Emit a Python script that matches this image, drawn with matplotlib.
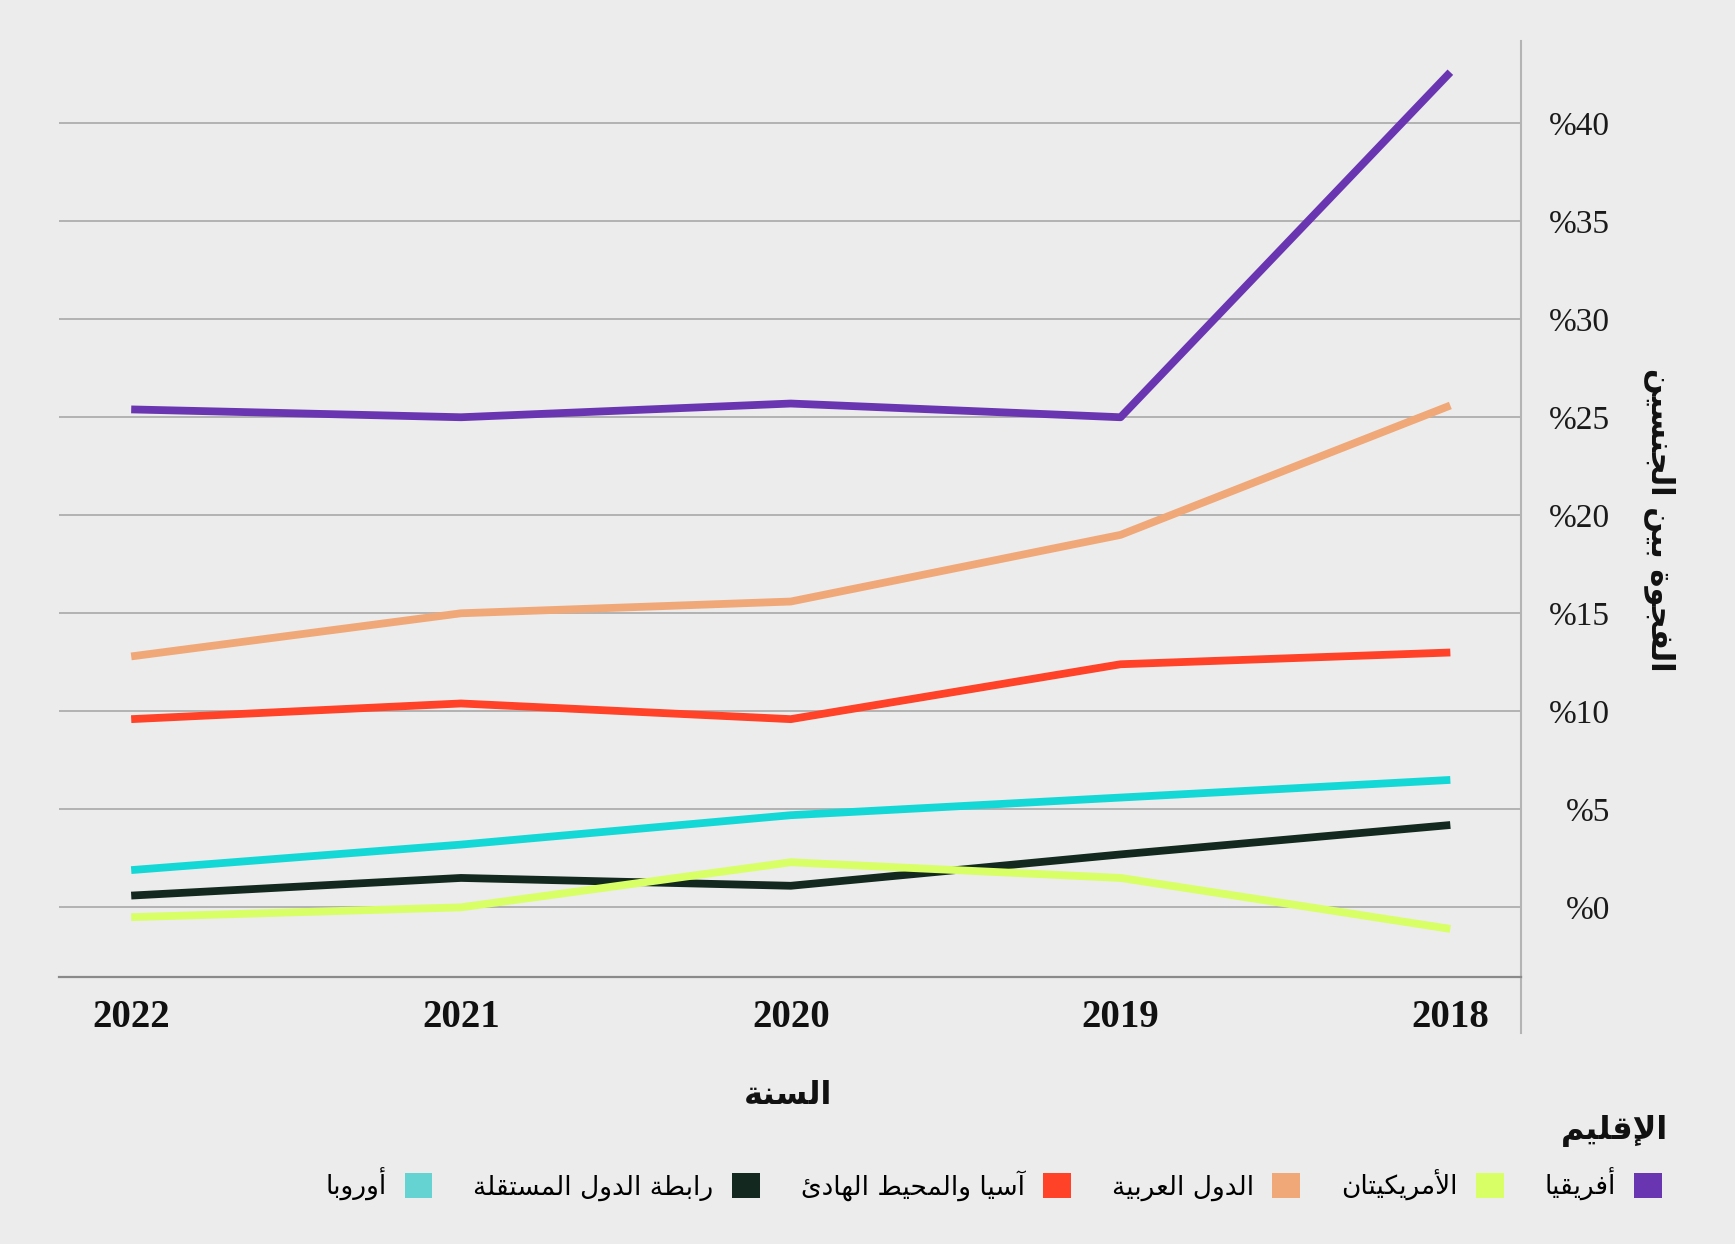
import matplotlib
matplotlib.use("Agg")
import matplotlib.pyplot as plt
from matplotlib.patches import Patch

# --- data -----------------------------------------------------------------
years = [2022, 2021, 2020, 2019, 2018]
africa = [25.4, 25.0, 25.7, 25.0, 42.6]
americas = [-0.5, 0.0, 2.3, 1.5, -1.1]
arab_states = [12.8, 15.0, 15.6, 19.0, 25.6]
asia_pacific = [9.6, 10.4, 9.6, 12.4, 13.0]
cis = [0.6, 1.5, 1.1, 2.7, 4.2]
europe = [1.9, 3.2, 4.7, 5.6, 6.5]
y_ticks = [0, 5, 10, 15, 20, 25, 30, 35, 40]

# --- minimal arabic shaping (matplotlib draws glyphs unshaped, left to right) --
_DUAL = {'ئ': 0xFE89, 'ب': 0xFE8F, 'ت': 0xFE95, 'ث': 0xFE99, 'ج': 0xFE9D, 'ح': 0xFEA1,
         'خ': 0xFEA5, 'س': 0xFEB1, 'ش': 0xFEB5, 'ص': 0xFEB9, 'ض': 0xFEBD, 'ط': 0xFEC1,
         'ظ': 0xFEC5, 'ع': 0xFEC9, 'غ': 0xFECD, 'ف': 0xFED1, 'ق': 0xFED5, 'ك': 0xFED9,
         'ل': 0xFEDD, 'م': 0xFEE1, 'ن': 0xFEE5, 'ه': 0xFEE9, 'ي': 0xFEF1}
_RIGHT = {'آ': 0xFE81, 'أ': 0xFE83, 'ؤ': 0xFE85, 'إ': 0xFE87, 'ا': 0xFE8D, 'ة': 0xFE93,
          'د': 0xFEA9, 'ذ': 0xFEAB, 'ر': 0xFEAD, 'ز': 0xFEAF, 'و': 0xFEED, 'ى': 0xFEEF}
_LAMALEF = {'آ': 0xFEF5, 'أ': 0xFEF7, 'إ': 0xFEF9, 'ا': 0xFEFB}


def ar(text):
    toks = []
    i = 0
    while i < len(text):
        c = text[i]
        if c == 'ل' and i + 1 < len(text) and text[i + 1] in _LAMALEF:
            toks.append(('R', _LAMALEF[text[i + 1]]))
            i += 2
            continue
        if c in _DUAL:
            toks.append(('D', _DUAL[c]))
        elif c in _RIGHT:
            toks.append(('R', _RIGHT[c]))
        else:
            toks.append(('U', c))
        i += 1
    out = []
    for k, (t, g) in enumerate(toks):
        if t == 'U':
            out.append(g)
            continue
        prev = toks[k - 1][0] if k > 0 else 'U'
        nxt = toks[k + 1][0] if k + 1 < len(toks) else 'U'
        jp = prev == 'D'
        jn = t == 'D' and nxt in ('D', 'R')
        off = 3 if (jp and jn) else 1 if jp else 2 if jn else 0
        out.append(chr(g + off))
    return ''.join(out)[::-1]


series = [
    ("أفريقيا", africa, "#6a35b0"),
    ("الدول العربية", arab_states, "#f0a878"),
    ("آسيا والمحيط الهادئ", asia_pacific, "#ff4228"),
    ("أوروبا", europe, "#14d8d6"),
    ("رابطة الدول المستقلة", cis, "#13291f"),
    ("الأمريكيتان", americas, "#d8ff66"),
]
legend_order = [
    ("أوروبا", "#66d3d3"),
    ("رابطة الدول المستقلة", "#13291f"),
    ("آسيا والمحيط الهادئ", "#ff4228"),
    ("الدول العربية", "#f0a878"),
    ("الأمريكيتان", "#d8ff66"),
    ("أفريقيا", "#6a35b0"),
]

BG = "#ececec"
fig = plt.figure(figsize=(17.35, 12.44), dpi=100, facecolor=BG)
ax = fig.add_axes([0.0338, 0.2146, 0.843, 0.7524], facecolor=BG)

for name, vals, color in series:
    ax.plot(years, vals, color=color, lw=5.6, solid_capstyle="butt", zorder=3)

ax.set_xlim(2022.22, 2017.785)
ax.set_ylim(-3.555, 44.19)

ax.set_yticks(y_ticks)
ax.set_yticklabels([f"%{v}" for v in y_ticks], fontfamily="Liberation Serif",
                   fontsize=24, color="#1a1a1a", ha="right")
ax.yaxis.tick_right()
ax.tick_params(axis="y", length=0, pad=64)
ax.grid(axis="y", color="#a8a8a8", lw=1.2)
ax.set_axisbelow(True)

ax.set_xticks(years)
ax.set_xticklabels([str(y) for y in years], fontfamily="Liberation Serif",
                   fontweight="bold", fontsize=28, color="#111111")
ax.tick_params(axis="x", length=0, pad=16)

for side in ["top", "left"]:
    ax.spines[side].set_visible(False)
ax.spines["bottom"].set_color("#8a8a8a")
ax.spines["bottom"].set_linewidth(1.6)
ax.spines["right"].set_color("#b4b4b4")
ax.spines["right"].set_linewidth(1.5)
ax.plot([1, 1], [-0.06, 0], transform=ax.transAxes, color="#b4b4b4", lw=1.5,
        clip_on=False)

fig.text(1660 / 1735, 1 - 520 / 1244, ar("الفجوة بين الجنسين"), rotation=270,
         ha="center", va="center", fontsize=22, fontweight="bold",
         fontfamily="DejaVu Sans", color="#111111")
fig.text(788 / 1735, 1 - 1095 / 1244, ar("السنة"), ha="center", va="center",
         fontsize=23, fontweight="bold", fontfamily="DejaVu Sans", color="#111111")
fig.text(1668 / 1735, 1 - 1131 / 1244, ar("الإقليم"), ha="right", va="center",
         fontsize=23, fontweight="bold", fontfamily="DejaVu Sans", color="#111111")

handles = [Patch(facecolor=c, edgecolor="none") for _, c in legend_order]
labels = [ar(n) for n, _ in legend_order]
fig.legend(handles, labels, loc="center right", bbox_to_anchor=(1662 / 1735, 1 - 1184 / 1244),
           ncol=6, frameon=False, markerfirst=False, handlelength=1.05, handleheight=1.1,
           handletextpad=0.7, columnspacing=1.55, borderaxespad=0, borderpad=0,
           prop={"family": "DejaVu Sans", "size": 19})

fig.savefig("out.png", dpi=100, facecolor=BG)
